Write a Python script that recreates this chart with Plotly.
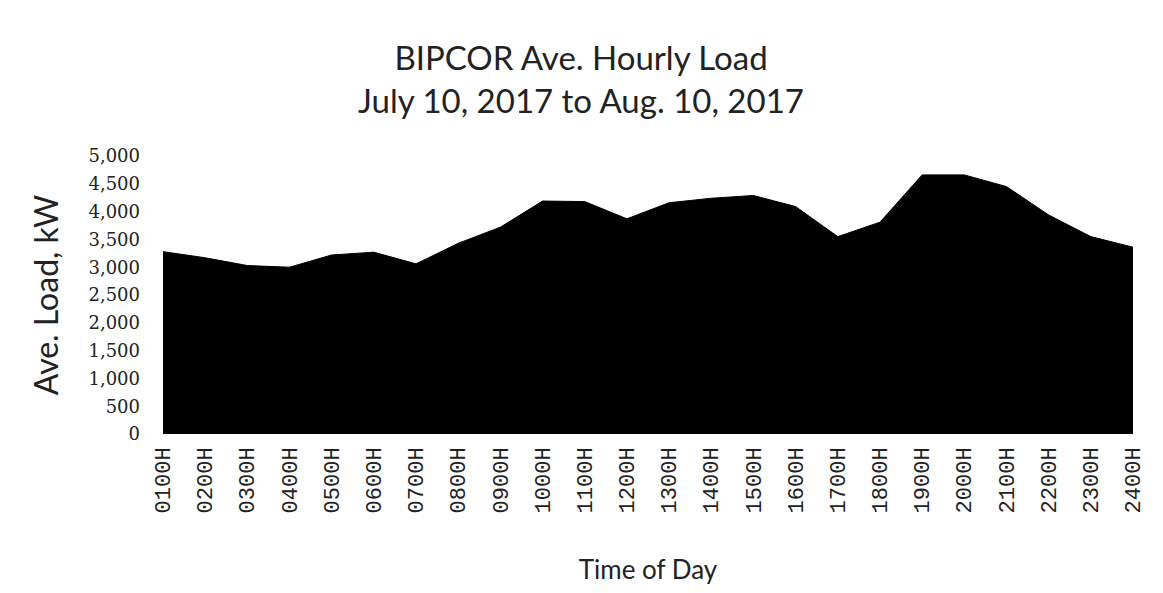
import plotly.graph_objects as go

hours = ["0100H", "0200H", "0300H", "0400H", "0500H", "0600H", "0700H", "0800H",
         "0900H", "1000H", "1100H", "1200H", "1300H", "1400H", "1500H", "1600H",
         "1700H", "1800H", "1900H", "2000H", "2100H", "2200H", "2300H", "2400H"]
load_kw = [3280, 3170, 3030, 3000, 3220, 3270, 3060, 3430,
           3720, 4190, 4180, 3870, 4160, 4240, 4290, 4090,
           3550, 3810, 4660, 4660, 4450, 3940, 3550, 3360]
y_ticks = [0, 500, 1000, 1500, 2000, 2500, 3000, 3500, 4000, 4500, 5000]

fig = go.Figure()
fig.add_trace(go.Scatter(
    x=hours, y=load_kw, mode="lines", fill="tozeroy",
    line=dict(color="black", width=1), fillcolor="black",
    hoverinfo="x+y", showlegend=False,
))

fig.update_layout(
    width=1163, height=593,
    paper_bgcolor="white", plot_bgcolor="white",
    margin=dict(l=155, r=38, t=148, b=167, autoexpand=False),
    title=dict(
        text="BIPCOR Ave. Hourly Load<br>July 10, 2017 to Aug. 10, 2017",
        x=0.4927, xanchor="center", y=0.895, yanchor="top",
        font=dict(family="Lato, Open Sans, sans-serif", size=33, color="#222"),
    ),
    xaxis=dict(
        type="category", range=[0, 23], showgrid=False, zeroline=False,
        showline=False, ticks="", tickangle=-90, automargin=False,
        ticklabelstandoff=8,
        tickfont=dict(family="Liberation Mono, DejaVu Sans Mono, monospace", size=22, color="#222"),
        title=dict(text="Time of Day", standoff=48,
                   font=dict(family="Lato, Open Sans, sans-serif", size=26, color="#222")),
    ),
    yaxis=dict(
        range=[0, 5000], tickvals=y_ticks, tickformat=",d",
        showgrid=False, zeroline=False, showline=False, ticks="",
        ticklabelstandoff=22, automargin=False,
        tickfont=dict(family="DejaVu Serif, Liberation Serif, serif", size=18, color="#222"),
        title=dict(text="Ave. Load, kW", standoff=20,
                   font=dict(family="Lato, Open Sans, sans-serif", size=32, color="#222")),
    ),
)

fig.write_html("out.html")
